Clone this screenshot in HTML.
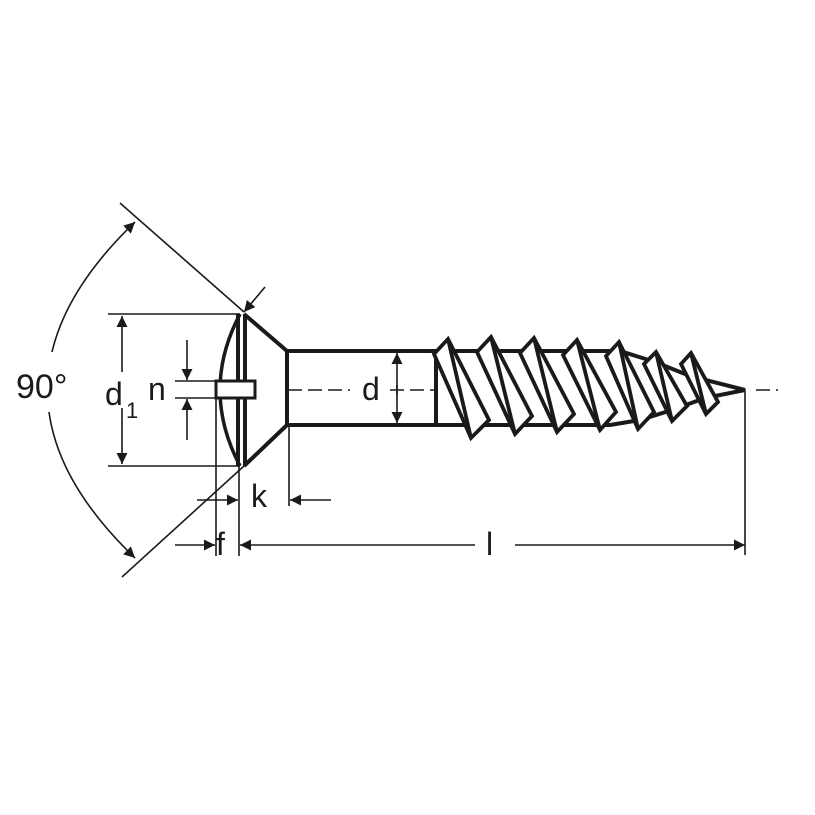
<!DOCTYPE html>
<html><head><meta charset="utf-8"><style>html,body{margin:0;padding:0;background:#fff}svg{display:block}</style></head>
<body>
<svg width="815" height="815" viewBox="0 0 815 815" xmlns="http://www.w3.org/2000/svg">
<defs>
<marker id="a" viewBox="0 0 10 10" refX="10" refY="5" markerWidth="18" markerHeight="11" markerUnits="userSpaceOnUse" orient="auto-start-reverse"><path d="M0,0 L10,5 L0,10 Z" fill="#1a1a1a"/></marker>
</defs>
<g fill="none" stroke="#1a1a1a" stroke-width="1.6">
<line x1="120" y1="203" x2="244" y2="312"/>
<line x1="265" y1="287" x2="244" y2="312" marker-end="url(#a)"/>
<line x1="122" y1="577" x2="244" y2="466"/>
<path d="M135,222 Q-40,390 135,558" marker-start="url(#a)" marker-end="url(#a)"/>
<line x1="108" y1="314" x2="240" y2="314"/>
<line x1="108" y1="466" x2="240" y2="466"/>
<line x1="122" y1="372" x2="122" y2="316" marker-end="url(#a)"/>
<line x1="122" y1="408" x2="122" y2="464" marker-end="url(#a)"/>
<line x1="175" y1="381" x2="216" y2="381"/>
<line x1="175" y1="398" x2="216" y2="398"/>
<line x1="187" y1="340" x2="187" y2="380" marker-end="url(#a)"/>
<line x1="187" y1="440" x2="187" y2="399" marker-end="url(#a)"/>
<line x1="397" y1="395" x2="397" y2="353" marker-end="url(#a)"/>
<line x1="397" y1="385" x2="397" y2="423" marker-end="url(#a)"/>
<path d="M228,390 H350 M390,390 H750 M756,390 H778" stroke-dasharray="14,6"/>
<line x1="216" y1="395" x2="216" y2="556"/>
<line x1="239" y1="466" x2="239" y2="556"/>
<line x1="289" y1="425" x2="289" y2="506"/>
<line x1="197" y1="500" x2="238" y2="500" marker-end="url(#a)"/>
<line x1="331" y1="500" x2="290" y2="500" marker-end="url(#a)"/>
<line x1="175" y1="545" x2="215" y2="545" marker-end="url(#a)"/>
<line x1="475" y1="545" x2="240" y2="545" marker-end="url(#a)"/>
<line x1="515" y1="545" x2="745" y2="545" marker-end="url(#a)"/>
<line x1="745" y1="390" x2="745" y2="555"/>
</g>
<rect x="14" y="352" width="70" height="60" fill="#fff"/>
<g fill="#fff" stroke="#1a1a1a" stroke-width="4" stroke-linejoin="miter">
<path d="M240,314 Q200,390 240,466" stroke-width="3.5"/>
<path d="M244,314 L287,351 L287,425 L244,466"/>
<line x1="238" y1="314" x2="238" y2="466"/>
<line x1="245" y1="314" x2="245" y2="466"/>
<rect x="216" y="381" width="39" height="17" stroke-width="3"/>
<path d="M287,351 H436 V425 H287" fill="none"/>
<path d="M436,351 H620 L655,362 L690,376 L745,390 L705,398 L672,410 L640,420 L610,425 H436 Z"/>
<line x1="436" y1="351" x2="436" y2="425"/>
<g stroke-width="3.8">
<polygon points="434,354 448,339 489,420 471,438"/><line x1="448" y1="339" x2="471" y2="438"/>
<polygon points="477,352 491,337 532,416 515,434"/><line x1="491" y1="337" x2="515" y2="434"/>
<polygon points="520,353 534,338 574,414 557,432"/><line x1="534" y1="338" x2="557" y2="432"/>
<polygon points="563,355 577,340 616,412 600,430"/><line x1="577" y1="340" x2="600" y2="430"/>
<polygon points="606,356 619,342 654,412 638,429"/><line x1="619" y1="342" x2="638" y2="429"/>
<polygon points="644,364 656,352 687,406 672,421"/><line x1="656" y1="352" x2="672" y2="421"/>
<polygon points="681,364 691,353 718,402 706,414"/><line x1="691" y1="353" x2="706" y2="414"/>
</g>
</g>
<g font-family="Liberation Sans, sans-serif" fill="#1a1a1a">
<text x="16" y="398" font-size="34">90°</text>
<text x="105" y="405" font-size="32">d</text>
<text x="126" y="418" font-size="22">1</text>
<text x="148" y="400" font-size="32">n</text>
<text x="362" y="400" font-size="32">d</text>
<text x="251" y="507" font-size="32">k</text>
<text x="216" y="555" font-size="32">f</text>
<text x="486" y="555" font-size="32">l</text>
</g>
</svg>
</body></html>
